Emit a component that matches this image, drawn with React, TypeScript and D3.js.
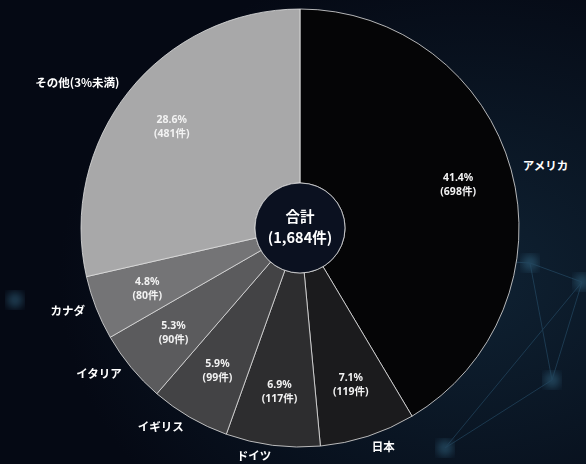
import { FC, useEffect, useRef } from "react";
import * as d3 from "d3";

const countries = ["アメリカ", "日本", "ドイツ", "イギリス", "イタリア", "カナダ", "その他(3%未満)"];
const counts = [698, 119, 117, 99, 90, 80, 481];
const percents = ["41.4%", "7.1%", "6.9%", "5.9%", "5.3%", "4.8%", "28.6%"];
const sliceColors = ["#050506", "#1b1b1d", "#2d2d2f", "#434345", "#5b5b5d", "#747476", "#a8a8a9"];
const totalLabel = ["合計", "(1,684件)"];

const W = 586;
const H = 464;

const App: FC = () => {
  const ref = useRef<SVGSVGElement>(null);

  useEffect(() => {
    const svg = d3.select(ref.current);
    svg.selectAll("*").remove();

    const cx = 300;
    const cy = 228;
    const outer = 219;
    const inner = 45;
    const font = "'Noto Sans CJK JP', 'Noto Sans', sans-serif";

    // background
    const defs = svg.append("defs");
    const bg = defs.append("radialGradient").attr("id", "bg").attr("cx", "80%").attr("cy", "60%").attr("r", "70%");
    bg.append("stop").attr("offset", "0%").attr("stop-color", "#0f2233");
    bg.append("stop").attr("offset", "100%").attr("stop-color", "#050914");
    const glow = defs.append("filter").attr("id", "blur");
    glow.append("feGaussianBlur").attr("stdDeviation", 4);

    svg.append("rect").attr("width", W).attr("height", H).attr("fill", "url(#bg)");

    // faint network decoration
    const deco = svg.append("g").attr("opacity", 0.5);
    const nodes: [number, number][] = [[530, 263], [582, 282], [552, 380], [445, 448], [395, 255], [15, 300]];
    const links: [number, number][] = [[0, 1], [0, 2], [0, 4], [1, 2], [2, 3], [1, 3]];
    links.forEach(([a, b]) =>
      deco.append("line")
        .attr("x1", nodes[a][0]).attr("y1", nodes[a][1])
        .attr("x2", nodes[b][0]).attr("y2", nodes[b][1])
        .attr("stroke", "#2d5a78").attr("stroke-width", 1)
    );
    nodes.forEach(([x, y]) =>
      deco.append("circle").attr("cx", x).attr("cy", y).attr("r", 8)
        .attr("fill", "#3a7393").attr("filter", "url(#blur)")
    );

    const g = svg.append("g").attr("transform", `translate(${cx},${cy})`);

    const pie = d3.pie<number>().sort(null).value((d) => d);
    const arcs = pie(counts);
    const arc = d3.arc<d3.PieArcDatum<number>>().innerRadius(inner).outerRadius(outer);
    const labelArc = d3.arc<d3.PieArcDatum<number>>().innerRadius(164).outerRadius(164);
    const outArc = d3.arc<d3.PieArcDatum<number>>().innerRadius(231).outerRadius(231);

    g.selectAll("path.slice")
      .data(arcs)
      .join("path")
      .attr("class", "slice")
      .attr("d", arc)
      .attr("fill", (d, i) => sliceColors[i])
      .attr("stroke", "rgba(225,225,225,0.8)")
      .attr("stroke-width", 1);

    // inside labels
    const inLab = g.selectAll("text.pct")
      .data(arcs)
      .join("text")
      .attr("class", "pct")
      .attr("transform", (d) => `translate(${labelArc.centroid(d)})`)
      .attr("text-anchor", "middle")
      .attr("fill", "#f2f2f2")
      .attr("font-family", "'Noto Sans', 'Noto Sans CJK JP', sans-serif")
      .attr("font-weight", 700)
      .attr("font-size", 10.5);
    inLab.append("tspan").attr("x", 0).attr("y", -3).text((d, i) => percents[i]);
    inLab.append("tspan").attr("x", 0).attr("y", 11).text((d, i) => `(${counts[i]}件)`);

    // outside labels
    g.selectAll("text.name")
      .data(arcs)
      .join("text")
      .attr("class", "name")
      .attr("transform", (d) => `translate(${outArc.centroid(d)})`)
      .attr("text-anchor", (d) => ((d.startAngle + d.endAngle) / 2 < Math.PI ? "start" : "end"))
      .attr("dominant-baseline", "middle")
      .attr("fill", "#ffffff")
      .attr("font-family", font)
      .attr("font-weight", 700)
      .attr("font-size", 11.5)
      .text((d, i) => countries[i]);

    // center total
    g.append("circle").attr("r", inner).attr("fill", "#0b1120").attr("stroke", "rgba(225,225,225,0.8)").attr("stroke-width", 1);
    const tot = g.append("text")
      .attr("text-anchor", "middle")
      .attr("fill", "#ffffff")
      .attr("font-family", font)
      .attr("font-weight", 700)
      .attr("font-size", 14.5);
    tot.append("tspan").attr("x", 0).attr("y", -6).text(totalLabel[0]);
    tot.append("tspan").attr("x", 0).attr("y", 15).text(totalLabel[1]);
  }, []);

  return (
    <svg ref={ref} width={W} height={H} style={{ position: "absolute", left: 0, top: 0, display: "block" }} />
  );
};

export default App;
